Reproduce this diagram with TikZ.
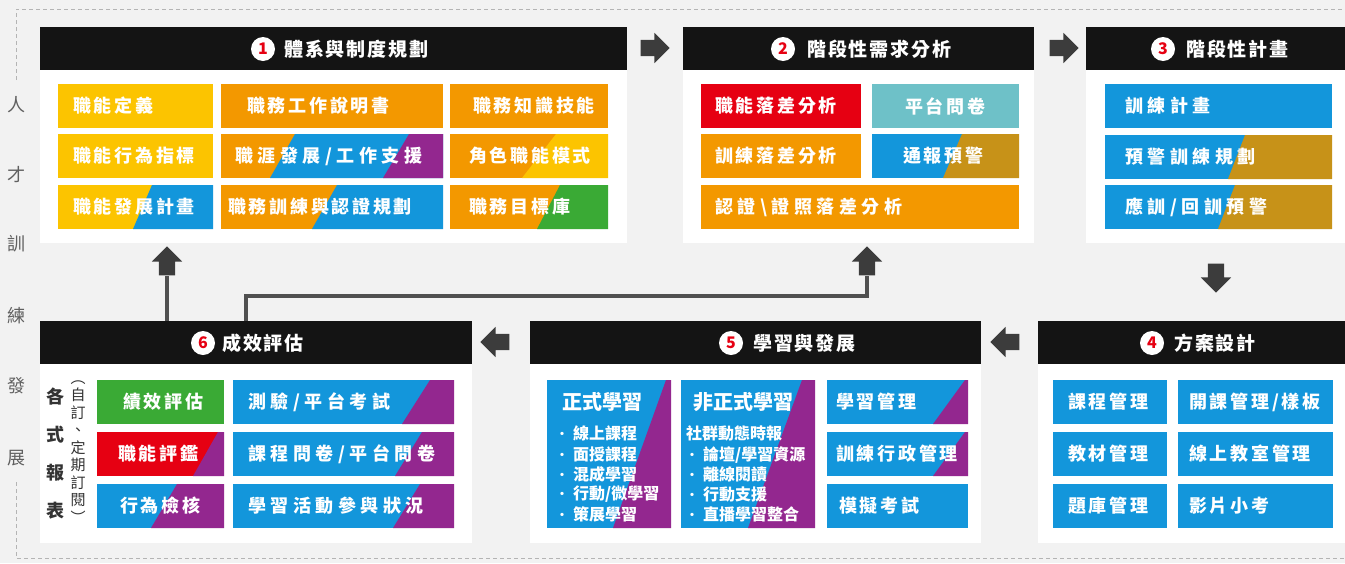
\documentclass[tikz,border=0pt]{standalone}
\usepackage{fontspec}
\setmainfont{Noto Sans CJK TC}
\newfontfamily\lblfont[LetterSpace=15]{Noto Sans CJK TC}
\newfontfamily\lblwfont[LetterSpace=25]{Noto Sans CJK TC}
\newfontfamily\ttlfont[LetterSpace=10]{Noto Sans CJK TC}
\usetikzlibrary{shapes.arrows,calc}
\definecolor{bg}{HTML}{F2F2F2}
\definecolor{hdrblack}{HTML}{141414}
\definecolor{yel}{HTML}{FCC400}
\definecolor{org}{HTML}{F39800}
\definecolor{blu}{HTML}{1396DB}
\definecolor{pur}{HTML}{93278F}
\definecolor{rd}{HTML}{E60012}
\definecolor{grn}{HTML}{3AAA35}
\definecolor{teal}{HTML}{6EC1C8}
\definecolor{gold}{HTML}{C79218}
\definecolor{numred}{HTML}{E60012}
\definecolor{arrowgray}{HTML}{3C3C3C}
\definecolor{linegray}{HTML}{505050}
\definecolor{sidegray}{HTML}{606060}
\definecolor{repgray}{HTML}{333333}
\definecolor{dashgray}{HTML}{B4B4B4}
\newcommand\rnode[6]{\node[#2,minimum width={(#5)-(#3)},minimum height={(#6)-(#4)}] (#1) at ({((#3)+(#5))/2},{((#4)+(#6))/2}) {};}
\newcommand\cutfill[6]{\fill[#6] (#1,#5) -- (#2,#4) -- (#3,#4) -- (#3,#5) -- cycle;}
\newcommand\bul{\makebox[0pt][c]{\raisebox{1pt}{\fontsize{12}{12}\selectfont ·}}\hspace{11pt}}
\begin{document}
\begin{tikzpicture}[x=1pt,y=-1pt,
  tile/.style={rectangle,inner sep=0,outer sep=0,draw=none},
  hdr/.style={tile,fill=hdrblack},
  panel/.style={tile,fill=white},
  lbl/.style={anchor=west,inner sep=0,text=white,font=\lblfont\bfseries\fontsize{18}{20}\selectfont},
  lblw/.style={anchor=west,inner sep=0,text=white,font=\lblwfont\bfseries\fontsize{18}{20}\selectfont},
  ttl/.style={anchor=west,inner sep=0,text=white,font=\ttlfont\bfseries\fontsize{19}{21}\selectfont},
  num/.style={circle,fill=white,text=numred,inner sep=0,minimum size=24pt,font=\bfseries\fontsize{16}{16}\selectfont},
  big/.style={anchor=west,inner sep=0,text=white,font=\bfseries\fontsize{20}{22}\selectfont},
  small/.style={anchor=west,inner sep=0,text=white,font=\bfseries\fontsize{16}{18}\selectfont},
  side/.style={inner sep=0,text=sidegray,font=\fontsize{18}{18}\selectfont},
  blk/.style={single arrow,fill=arrowgray,draw=none,inner sep=8pt,minimum height=29pt,single arrow head extend=7pt,single arrow head indent=0pt},
  conn/.style={draw=linegray,line width=4pt}
]
\useasboundingbox (0,0) rectangle (1345,563);
\fill[bg] (0,0) rectangle (1345,563);
% dashed frame
\draw[dashgray,line width=1pt,dash pattern=on 4pt off 3pt] (16,80) -- (16,9) -- (1345,9);
\draw[dashgray,line width=1pt,dash pattern=on 4pt off 3pt] (16,482) -- (16,558) -- (1345,558);
% side title
\node[side] (v1) at (16,105) {人};
\node[side] (v2) at (16,175) {才};
\node[side] (v3) at (16,244) {訓};
\node[side] (v4) at (16,316) {練};
\node[side] (v5) at (16,386) {發};
\node[side] (v6) at (16,458) {展};

% panels
\rnode{p1}{panel}{40}{70}{627}{243}
\rnode{p2}{panel}{683}{70}{1034}{243}
\rnode{p3}{panel}{1086}{70}{1345}{243}
\rnode{p6}{panel}{40}{364}{472}{543}
\rnode{p5}{panel}{530}{364}{981}{543}
\rnode{p4}{panel}{1038}{364}{1345}{543}
% headers
\rnode{h1}{hdr}{40}{27}{627}{70}
\rnode{h2}{hdr}{683}{27}{1034}{70}
\rnode{h3}{hdr}{1086}{27}{1345}{70}
\rnode{h6}{hdr}{40}{321}{472}{364}
\rnode{h5}{hdr}{530}{321}{981}{364}
\rnode{h4}{hdr}{1038}{321}{1345}{364}

\node[num] (n1) at (263,49) {1};
\node[ttl] (ti1) at (284,49) {體系與制度規劃};
\node[num] (n2) at (783,49) {2};
\node[ttl] (ti2) at (807,49) {階段性需求分析};
\node[num] (n3) at (1163,49) {3};
\node[ttl] (ti3) at (1186,49) {階段性計畫};
\node[num] (n6) at (203,343) {6};
\node[ttl] (ti6) at (222,343) {成效評估};
\node[num] (n5) at (731,343) {5};
\node[ttl] (ti5) at (753,343) {學習與發展};
\node[num] (n4) at (1152,343) {4};
\node[ttl] (ti4) at (1174,343) {方案設計};

% arrows between stages
\node[blk] (a12) at (651,48) {};
\node[blk] (a23) at (1060,48) {};
\node[blk,shape border rotate=270] (a34) at (1216,274) {};
\node[blk,shape border rotate=180] (a45) at (1009,342) {};
\node[blk,shape border rotate=180] (a56) at (499,342) {};
\node[blk,shape border rotate=90] (up1) at (167,265) {};
\node[blk,shape border rotate=90] (up2) at (867,265) {};
\coordinate (c6) at (246,321);
\draw[conn] (up1.tail |- h6.north) -- (up1.tail);
\draw[conn] (c6) |- ($(up2.tail)+(0,20)$) -- (up2.tail);

% ---- panel 1 tiles
\rnode{t11}{tile,fill=yel}{58}{84}{213}{128}
\rnode{t12}{tile,fill=yel}{58}{134}{213}{178}
\rnode{t13}{tile,fill=yel}{58}{185}{213}{229}
\cutfill{133}{152}{213}{185}{229}{blu}
\rnode{t21}{tile,fill=org}{221}{84}{443}{128}
\rnode{t22}{tile,fill=org}{221}{134}{443}{178}
\cutfill{270}{295}{443}{134}{178}{blu}
\cutfill{383}{409}{443}{134}{178}{pur}
\rnode{t23}{tile,fill=org}{221}{185}{443}{229}
\cutfill{312}{337}{443}{185}{229}{blu}
\rnode{t31}{tile,fill=org}{450}{84}{608}{128}
\rnode{t32}{tile,fill=org}{450}{134}{608}{178}
\cutfill{522}{556}{608}{134}{178}{yel}
\rnode{t33}{tile,fill=org}{450}{185}{608}{229}
\cutfill{537}{560}{608}{185}{229}{grn}
\node[lbl] (l11) at (73,106) {職能定義};
\node[lbl] (l12) at (73,156) {職能行為指標};
\node[lbl] (l13) at (73,207) {職能發展計畫};
\node[lbl] (l21) at (247,106) {職務工作說明書};
\node[lblw] (l22) at (235,156) {職涯發展/工作支援};
\node[lbl] (l23) at (228,207) {職務訓練與認證規劃};
\node[lbl] (l31) at (473,106) {職務知識技能};
\node[lbl] (l32) at (469,156) {角色職能模式};
\node[lbl] (l33) at (469,207) {職務目標庫};

% ---- panel 2 tiles
\rnode{q1}{tile,fill=rd}{701}{84}{861}{128}
\rnode{q2}{tile,fill=org}{701}{134}{861}{178}
\rnode{q3}{tile,fill=org}{701}{185}{1019}{229}
\rnode{q4}{tile,fill=teal}{872}{84}{1019}{128}
\rnode{q5}{tile,fill=blu}{872}{134}{1019}{178}
\cutfill{943}{962}{1019}{134}{178}{gold}
\node[lbl] (lq1) at (715,106) {職能落差分析};
\node[lbl] (lq2) at (715,156) {訓練落差分析};
\node[lblw] (lq3) at (715,207) {認證\textbackslash 證照落差分析};
\node[lbl] (lq4) at (905,106) {平台問卷};
\node[lbl] (lq5) at (903,156) {通報預警};

% ---- panel 3 tiles
\rnode{s1}{tile,fill=blu}{1105}{84}{1332}{128}
\rnode{s2}{tile,fill=blu}{1105}{135}{1332}{179}
\cutfill{1228}{1245}{1332}{135}{179}{gold}
\rnode{s3}{tile,fill=blu}{1105}{185}{1332}{229}
\cutfill{1218}{1235}{1332}{185}{229}{gold}
\node[lblw] (ls1) at (1125,106) {訓練計畫};
\node[lblw] (ls2) at (1125,157) {預警訓練規劃};
\node[lblw] (ls3) at (1125,207) {應訓/回訓預警};

% ---- panel 4 tiles
\rnode{d1}{tile,fill=blu}{1053}{380}{1167}{424}
\rnode{d2}{tile,fill=blu}{1053}{432}{1167}{476}
\rnode{d3}{tile,fill=blu}{1053}{484}{1167}{528}
\rnode{d4}{tile,fill=blu}{1178}{380}{1333}{424}
\rnode{d5}{tile,fill=blu}{1178}{432}{1333}{476}
\rnode{d6}{tile,fill=blu}{1178}{484}{1333}{528}
\node[lbl] (ld1) at (1068,402) {課程管理};
\node[lbl] (ld2) at (1068,454) {教材管理};
\node[lbl] (ld3) at (1068,506) {題庫管理};
\node[lbl] (ld4) at (1189,402) {開課管理/樣板};
\node[lbl] (ld5) at (1189,454) {線上教室管理};
\node[lbl] (ld6) at (1189,506) {影片小考};

% ---- panel 5 tiles
\rnode{f1}{tile,fill=blu}{547}{380}{671}{528}
\cutfill{613}{666}{671}{380}{528}{pur}
\rnode{f2}{tile,fill=blu}{681}{380}{815}{528}
\cutfill{748}{802}{815}{380}{528}{pur}
\rnode{f3}{tile,fill=blu}{827}{380}{968}{424}
\cutfill{933}{965}{968}{380}{424}{pur}
\rnode{f4}{tile,fill=blu}{827}{432}{968}{476}
\cutfill{933}{965}{968}{432}{476}{pur}
\rnode{f5}{tile,fill=blu}{827}{484}{968}{528}
\node[big] (lf1) at (562,402) {正式學習};
\node[small] (lf1a) at (562,433) {\bul 線上課程};
\node[small] (lf1b) at (562,454) {\bul 面授課程};
\node[small] (lf1c) at (562,474) {\bul 混成學習};
\node[small] (lf1d) at (562,494) {\bul 行動/微學習};
\node[small] (lf1e) at (562,514) {\bul 策展學習};
\node[big] (lf2) at (693,402) {非正式學習};
\node[small] (lf2h) at (686,433) {社群動態時報};
\node[small] (lf2a) at (692,455) {\bul 論壇/學習資源};
\node[small] (lf2b) at (692,474) {\bul 離線閱讀};
\node[small] (lf2c) at (692,494) {\bul 行動支援};
\node[small] (lf2d) at (692,514) {\bul 直播學習整合};
\node[lbl] (lf3) at (836,402) {學習管理};
\node[lbl] (lf4) at (836,454) {訓練行政管理};
\node[lbl] (lf5) at (839,506) {模擬考試};

% ---- panel 6 tiles
\rnode{e1}{tile,fill=grn}{97}{380}{224}{424}
\rnode{e2}{tile,fill=rd}{97}{432}{224}{476}
\cutfill{193}{218}{224}{432}{476}{pur}
\rnode{e3}{tile,fill=blu}{97}{484}{224}{528}
\cutfill{151}{177}{224}{484}{528}{pur}
\rnode{e4}{tile,fill=blu}{233}{380}{454}{424}
\cutfill{402}{430}{454}{380}{424}{pur}
\rnode{e5}{tile,fill=blu}{233}{432}{454}{476}
\cutfill{395}{422}{454}{432}{476}{pur}
\rnode{e6}{tile,fill=blu}{233}{484}{454}{528}
\cutfill{393}{420}{454}{484}{528}{pur}
\node[lbl] (le1) at (123,402) {績效評估};
\node[lbl] (le2) at (118,454) {職能評鑑};
\node[lbl] (le3) at (120,506) {行為檢核};
\node[lblw] (le4) at (248,402) {測驗/平台考試};
\node[lblw] (le5) at (248,454) {課程問卷/平台問卷};
\node[lblw] (le6) at (248,506) {學習活動參與狀況};
\node[inner sep=0,text=repgray,align=center,font=\bfseries\fontsize{18}{37.7}\selectfont] (rep) at (55,453.5) {各\\式\\報\\表};
\node[inner sep=0,text=repgray,align=center,font=\fontsize{15}{17.5}\selectfont] (sub) at (78,452) {︵\\自\\訂\\、\\定\\期\\訂\\閱\\︶};
\end{tikzpicture}
\end{document}
